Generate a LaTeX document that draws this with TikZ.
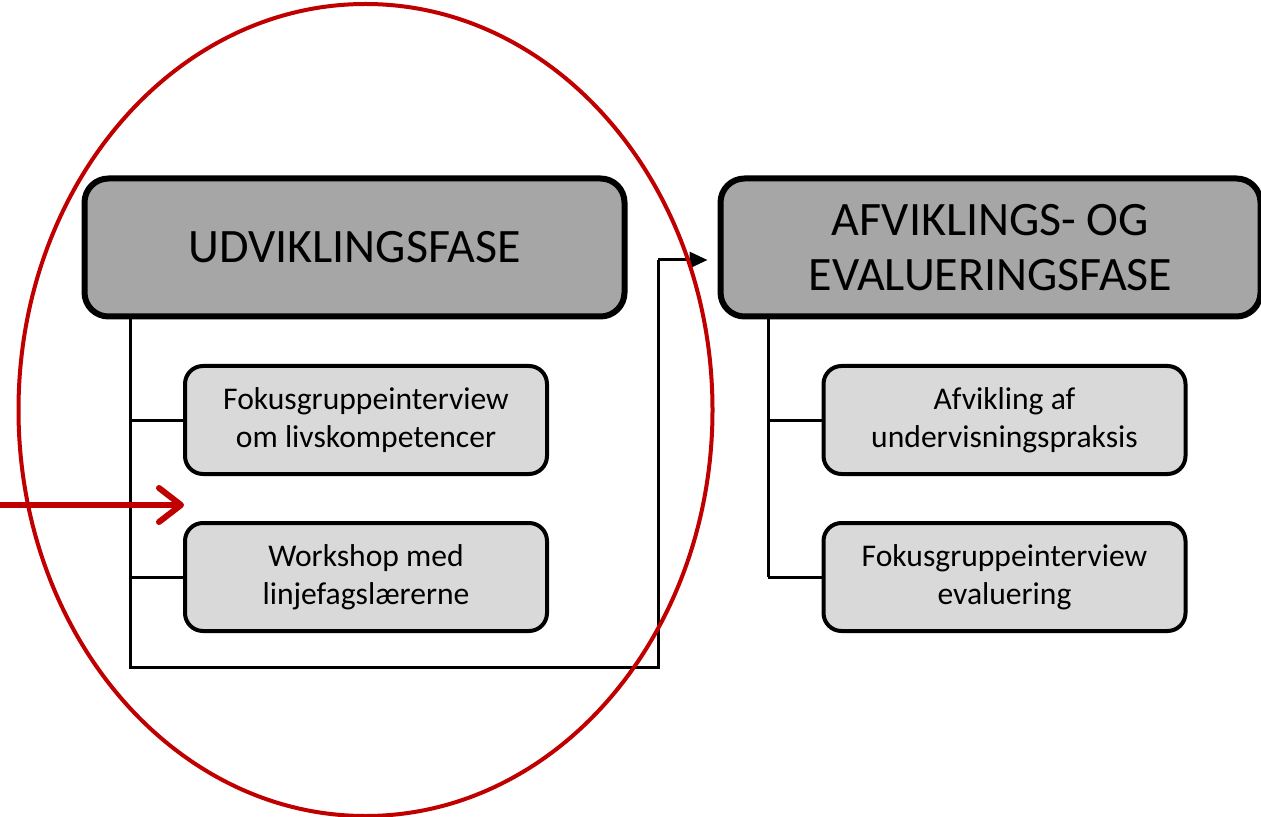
\documentclass[tikz,border=0pt]{standalone}
\usepackage{fontspec}
\setmainfont{Carlito}
\usetikzlibrary{arrows.meta}
\definecolor{phasegray}{HTML}{A6A6A6}
\definecolor{taskgray}{HTML}{D9D9D9}
\definecolor{ringred}{HTML}{C00000}
\begin{document}
\begin{tikzpicture}[x=0.5pt,y=-0.5pt,
  phase/.style={draw=black,line width=3pt,fill=phasegray,rounded corners=12pt,
    minimum width=270pt,minimum height=69pt,align=center,inner sep=0pt,
    font=\fontsize{24}{27.5}\selectfont},
  task/.style={draw=black,line width=2pt,fill=taskgray,rounded corners=9pt,
    minimum width=181pt,minimum height=54pt,align=center,inner sep=0pt,
    font=\fontsize{15.8}{19}\selectfont},
  conn/.style={draw=black,line width=1.5pt},
  ring/.style={draw=ringred,line width=2pt},
  redarrow/.style={draw=ringred,line width=3pt,-{Straight Barb[length=11pt,width=17pt,line width=3pt,round]}}
]
\useasboundingbox (0,0) rectangle (1261,817);
\node[phase] (p1) at (354.5,247.5) {UDVIKLINGSFASE};
\node[phase] (p2) at (990.5,247.5) {AFVIKLINGS- OG\\EVALUERINGSFASE};
\node[task] (t1) at (366,420) {Fokusgruppeinterview\\om livskompetencer};
\node[task] (t2) at (366,577) {Workshop med\\linjefagslærerne};
\node[task] (t3) at (1004.5,420) {Afvikling af\\undervisningspraksis};
\node[task] (t4) at (1004.5,577) {Fokusgruppeinterview\\evaluering};
\coordinate (l0) at (130,317);
\coordinate (lb) at (130,667);
\coordinate (rb) at (658,667);
\coordinate (ru) at (658,260);
\coordinate (r0) at (768,317);
\draw[conn] (l0) -- (lb) -- (rb) -- (ru);
\draw[conn,-{Triangle[length=9pt,width=8pt]}] (ru) -- ([xshift=-5pt]ru -| p2.west);
\draw[conn] (130,420) -- (t1.west);
\draw[conn] (130,577) -- (t2.west);
\draw[conn] (r0) -- (768,577);
\draw[conn] (768,420) -- (t3.west);
\draw[conn] (768,577) -- (t4.west);
\draw[ring] (365.5,410) ellipse [x radius=347, y radius=406];
\coordinate (a0) at (0,505);
\draw[redarrow] (a0) -- (184,505);
\end{tikzpicture}
\end{document}
